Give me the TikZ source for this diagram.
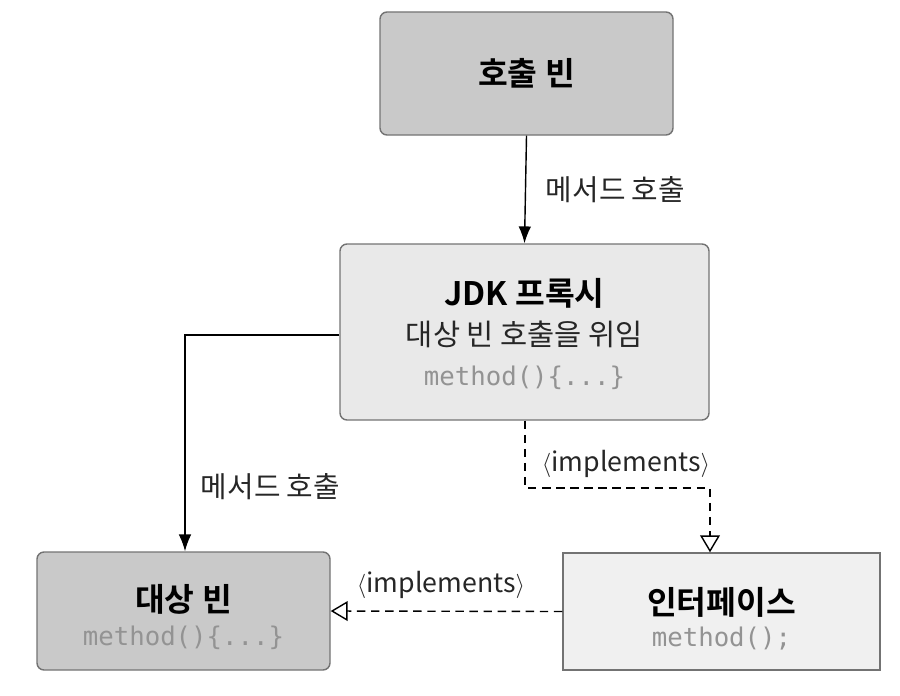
\documentclass[tikz,border=0pt]{standalone}
\usepackage{fontspec}
\setmainfont{Noto Sans CJK KR}
\newfontfamily\krb{Noto Sans CJK KR Bold}
\newfontfamily\kr{Noto Sans CJK KR}
\setmonofont{DejaVu Sans Mono}
\usetikzlibrary{arrows.meta}
\definecolor{darkbox}{HTML}{C9C9C9}
\definecolor{lightbox}{HTML}{E9E9E9}
\definecolor{ifbox}{HTML}{F0F0F0}
\definecolor{codegray}{HTML}{939393}
\begin{document}
\begin{tikzpicture}[x=0.025cm,y=-0.025cm,
  box/.style={draw=black!55, line width=1pt, inner sep=0pt},
  title/.style={font=\krb\fontsize{23}{26}\selectfont},
  sub/.style={font=\kr\fontsize{21}{24}\selectfont, text=black!85},
  code/.style={font=\ttfamily\fontsize{18.3}{21}\selectfont, text=codegray},
  lab/.style={font=\kr\fontsize{20.5}{24}\selectfont, text=black!85},
  implab/.style={font=\kr\fontsize{19}{22}\selectfont, text=black!85},
  solidarrow/.style={line width=1pt, -{Latex[length=12pt,width=9pt]}},
  implarrow/.style={line width=1pt, dash pattern=on 6pt off 4pt, -{Triangle[open,length=12pt,width=14pt]}}
]
\useasboundingbox (0,0) rectangle (900,696);
% boxes
\node[box, rounded corners=5pt, fill=darkbox, minimum width=293*0.025cm, minimum height=123*0.025cm] (caller) at (526.5,73.5) {};
\node[title] at (caller.center) {호출 빈};

\node[box, rounded corners=5pt, fill=lightbox, minimum width=369*0.025cm, minimum height=176*0.025cm] (proxy) at (524.5,332) {};
\node[title] at (524.5,293) {JDK 프록시};
\node[sub] at (524.5,334) {대상 빈 호출을 위임};
\node[code] at (524.5,378) {method()\{...\}};

\node[box, rounded corners=5pt, fill=darkbox, minimum width=293*0.025cm, minimum height=118*0.025cm] (target) at (183.5,611) {};
\node[title] at (183.5,599) {대상 빈};
\node[code] at (183.5,638) {method()\{...\}};

\node[box, fill=ifbox, minimum width=317*0.025cm, minimum height=117*0.025cm] (iface) at (721.5,611.5) {};
\node[title] at (721.5,602) {인터페이스};
\node[code] at (721.5,639) {method();};

% connectors
\draw[solidarrow] (caller.south) -- (proxy.north);
\node[lab, anchor=west] (l1) at (541,190) {메서드 호출};

\coordinate (c1) at (185,335);
\draw[solidarrow] (proxy.west |- c1) -- (c1) -- (target.north -| c1);
\node[lab, anchor=west] (l2) at (196,487) {메서드 호출};

\coordinate (d1) at (525,488);
\coordinate (d2) at (710,488);
\draw[implarrow] (proxy.south -| d1) -- (d1) -- (d2) -- (iface.north -| d2);
\node[implab, anchor=west] (l3) at (537,464) {\(\langle\)implements\(\rangle\)};

\draw[implarrow] (iface.west) -- (target.east);
\node[implab, anchor=west] (l4) at (352,585) {\(\langle\)implements\(\rangle\)};
\end{tikzpicture}
\end{document}
